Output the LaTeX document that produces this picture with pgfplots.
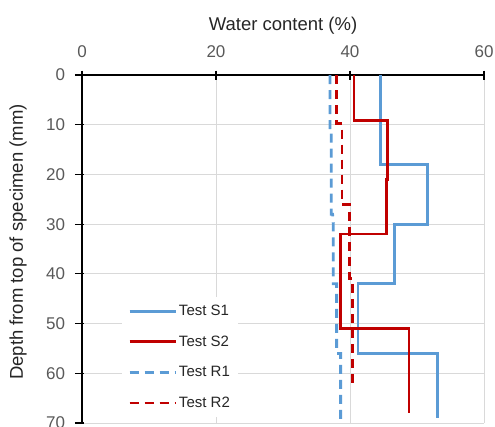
\documentclass[border=0pt]{standalone}
\usepackage{pgfplots}
\pgfplotsset{compat=1.18}
\usepackage{fontspec}
\setmainfont{Liberation Sans}
\definecolor{sblue}{HTML}{5B9BD5}
\definecolor{sred}{HTML}{C00000}
\definecolor{tickgray}{HTML}{595959}
\definecolor{labgray}{HTML}{262626}
\definecolor{gridgray}{HTML}{D9D9D9}
\begin{document}
\begin{tikzpicture}
\useasboundingbox (-82pt,-3pt) rectangle (413pt,423pt);
\begin{axis}[
  scale only axis,
  width=402pt, height=348pt,
  xmin=0, xmax=60, ymin=0, ymax=70,
  y dir=reverse,
  axis x line=top,
  axis y line=left,
  axis line style={-, black, line width=1.2pt},
  xtick={0,20,40,60},
  ytick={0,10,20,30,40,50,60,70},
  grid=major,
  major grid style={gridgray, line width=1pt},
  tick align=center,
  major tick length=9pt,
  tick style={black, line width=1.2pt},
  ytick style={xshift=-2.5pt},
  xticklabel shift=9pt,
  yticklabel shift=9pt,
  /pgf/number format/assume math mode=true,
  ticklabel style={font=\fontsize{17}{20}\selectfont, text=tickgray},
  xlabel={Water content (\%)},
  ylabel={Depth from top of specimen (mm)},
  every axis y label/.style={at={(axis description cs:-0.159,0.52)}, rotate=90, anchor=center,
    font=\fontsize{18.5}{22}\selectfont, text=labgray},
  every axis x label/.style={at={(axis description cs:0.5,1)}, anchor=center, yshift=49pt,
    font=\fontsize{18.5}{22}\selectfont, text=labgray},
  legend style={at={(0.0995,0.362)}, anchor=north west, fill=white, draw=none,
    font=\fontsize{15}{18}\selectfont, text=labgray, row sep=14.7pt,
    inner xsep=6pt, inner ysep=6pt},
  legend cell align=left,
  legend image code/.code={\draw[#1] (0pt,0pt) -- (46pt,0pt);},
]
\addplot[sblue, line width=2.8pt] coordinates {
 (44.6,0) (44.6,18) (51.6,18) (51.6,30) (46.7,30) (46.7,42) (41.2,42) (41.2,56) (53.0,56) (53.0,69)};
\addlegendentry{Test S1}
\addplot[sred, line width=2.8pt] coordinates {
 (40.6,0) (40.6,9.2) (45.6,9.2) (45.6,21) (45.4,21) (45.4,32) (38.6,32) (38.6,51) (48.8,51) (48.8,68)};
\addlegendentry{Test S2}
\addplot[sblue, line width=2.8pt, dash pattern=on 9pt off 6pt] coordinates {
 (37.0,0) (37.0,11) (37.2,11) (37.2,28) (37.4,28) (37.5,30) (37.5,42) (38.0,42) (38.0,56) (38.6,56) (38.6,70)};
\addlegendentry{Test R1}
\addplot[sred, line width=2.8pt, dash pattern=on 9pt off 6pt] coordinates {
 (38.0,0) (38.0,9.8) (38.8,9.8) (38.8,26) (39.9,26) (39.9,41) (40.4,41) (40.4,62)};
\addlegendentry{Test R2}
\end{axis}
\end{tikzpicture}
\end{document}
